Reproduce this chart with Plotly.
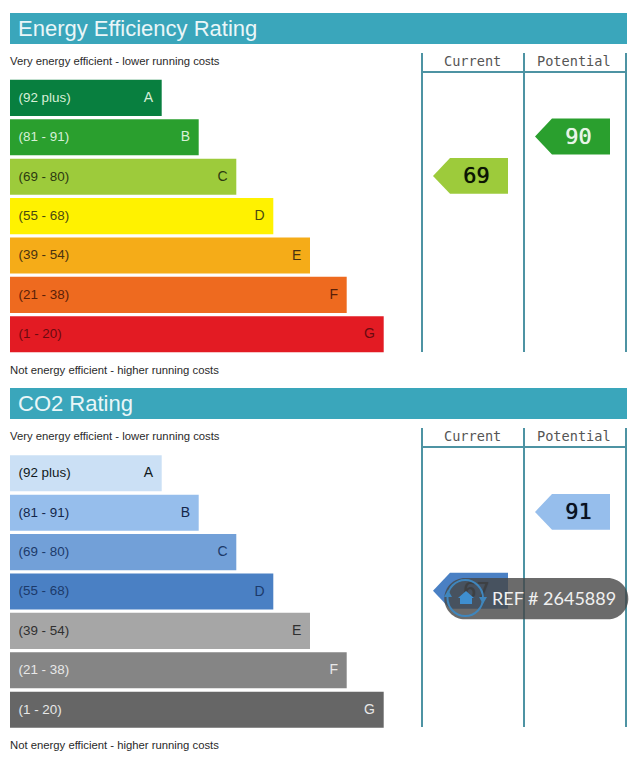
import plotly.graph_objects as go

W, H = 640, 768

bands = ["(92 plus)", "(81 - 91)", "(69 - 80)", "(55 - 68)", "(39 - 54)", "(21 - 38)", "(1 - 20)"]
letters = ["A", "B", "C", "D", "E", "F", "G"]
bar_lengths = [151.7, 188.7, 226.3, 263.3, 300, 336.7, 373.7]

eer_colors = ["#087f3f", "#2a9f2e", "#9dcb3b", "#fff200", "#f5ac18", "#ee6a1f", "#e31b23"]
eer_text = ["#d8efd8", "#d8efd8", "#2c3a10", "#4a4a10", "#4a3210", "#5a2008", "#6a0a10"]
co2_colors = ["#cbe0f5", "#96beec", "#72a0d8", "#4a80c4", "#a6a6a6", "#858585", "#666666"]
co2_text = ["#101820", "#14264a", "#1c3a6a", "#1c3a6a", "#303030", "#e8e8e8", "#e8e8e8"]

eer_current, eer_potential = 69, 90
co2_current, co2_potential = 67, 91
band_floor = [92, 81, 69, 55, 39, 21, 1]

BAR_X0 = 10
TEAL = "#3aa6bb"
LINE = "#4d93a3"
PILL = "rgba(70,70,70,0.8)"


def band_of(value):
    for i, low in enumerate(band_floor):
        if value >= low:
            return i
    return len(band_floor) - 1


def py(p):
    return 1 - p / H


def px(p):
    return p / W


fig = go.Figure()


def add_panel(yaxis, colors, text_colors, number_colors, current, potential):
    idx = list(range(len(bands)))
    text_y = [i + 0.015 for i in idx]
    fig.add_trace(go.Bar(y=idx, x=bar_lengths, base=BAR_X0, orientation="h", width=0.915,
                         marker=dict(color=colors, line_width=0), yaxis=yaxis, hoverinfo="skip"))
    fig.add_trace(go.Scatter(y=text_y, x=[18.5] * 7, text=bands, mode="text", textposition="middle right",
                             textfont=dict(family="Liberation Sans", size=13.4, color=text_colors),
                             yaxis=yaxis, hoverinfo="skip"))
    ends = [BAR_X0 + b - 8.7 for b in bar_lengths]
    fig.add_trace(go.Scatter(y=text_y, x=ends, text=letters, mode="text", textposition="middle left",
                             textfont=dict(family="Liberation Sans", size=14, color=text_colors),
                             yaxis=yaxis, hoverinfo="skip"))
    # pointers sit on the band their value belongs to, a touch above the bar
    for value, left in ((current, 433), (potential, 535)):
        b = band_of(value)
        c = b - 0.02
        fig.add_trace(go.Scatter(
            x=[left, left + 17, left + 75, left + 75, left + 17, left],
            y=[c, c - 0.455, c - 0.455, c + 0.455, c + 0.455, c],
            mode="lines", fill="toself", fillcolor=colors[b], line_width=0,
            yaxis=yaxis, hoverinfo="skip"))
        fig.add_trace(go.Scatter(
            x=[left + 43.5], y=[b + 0.02], text=[str(value)], mode="text", textposition="middle center",
            textfont=dict(family="DejaVu Sans Mono", size=22, color=number_colors[b],
                          shadow="0 0 0.7px " + number_colors[b]),
            yaxis=yaxis, hoverinfo="skip"))


eer_numbers = ["#e8f5e8", "#e8f5e8", "#0c1404", "#0c1404", "#0c1404", "#0c1404", "#0c1404"]
co2_numbers = ["#0a1020", "#0a1020", "#0a1020", "#1c2a3a", "#0a1020", "#0a1020", "#0a1020"]
add_panel("y", eer_colors, eer_text, eer_numbers, eer_current, eer_potential)
add_panel("y2", co2_colors, co2_text, co2_numbers, co2_current, co2_potential)

shapes = []
annotations = []


def rect(x0, y0, x1, y1, color):
    shapes.append(dict(type="rect", xref="paper", yref="paper", x0=px(x0), x1=px(x1), y0=py(y0), y1=py(y1),
                       fillcolor=color, line_width=0, layer="below"))


def label(text, x, y, size, color, family="Liberation Sans", anchor="left"):
    annotations.append(dict(text=text, xref="paper", yref="paper", x=px(x), y=py(y), xanchor=anchor,
                            yanchor="middle", showarrow=False,
                            font=dict(family=family, size=size, color=color)))


def poly(points, color):
    d = "M " + " L ".join(f"{px(x)},{py(y)}" for x, y in points) + " Z"
    shapes.append(dict(type="path", xref="paper", yref="paper", path=d, fillcolor=color,
                       line_width=0, layer="above"))


for top, title in ((13, "Energy Efficiency Rating"), (388, "CO2 Rating")):
    rect(10, top, 627, top + 31, TEAL)
    label(title, 16.2, top + 15, 22, "#eaf6f8")
    label("Very energy efficient - lower running costs", 8, top + 48, 11.3, "#2a2a2a")
    label("Not energy efficient - higher running costs", 8, top + 357, 11.3, "#2a2a2a")
    for x in (422, 524, 626):
        rect(x - 1, top + 40, x + 1, top + 339, LINE)
    rect(422, top + 58, 626, top + 60, LINE)
    label("Current", 472.5, top + 48, 13.6, "#555555", "DejaVu Sans Mono", "center")
    label("Potential", 574, top + 48, 13.6, "#555555", "DejaVu Sans Mono", "center")

# watermark pill, one path so the alpha does not double up
x0, x1, y0, y1 = 444.3, 628.3, 578, 619.3
r = (y1 - y0) / 2
k = r * 0.45
pill = (f"M {px(x0 + r)},{py(y0)} L {px(x1 - r)},{py(y0)} "
        f"C {px(x1 - k)},{py(y0)} {px(x1)},{py(y0 + k)} {px(x1)},{py(y0 + r)} "
        f"C {px(x1)},{py(y1 - k)} {px(x1 - k)},{py(y1)} {px(x1 - r)},{py(y1)} "
        f"L {px(x0 + r)},{py(y1)} "
        f"C {px(x0 + k)},{py(y1)} {px(x0)},{py(y1 - k)} {px(x0)},{py(y0 + r)} "
        f"C {px(x0)},{py(y0 + k)} {px(x0 + k)},{py(y0)} {px(x0 + r)},{py(y0)} Z")
shapes.append(dict(type="path", xref="paper", yref="paper", path=pill, fillcolor=PILL,
                   line_width=0, layer="above"))
shapes.append(dict(type="circle", xref="paper", yref="paper", x0=px(447.5), x1=px(483), y0=py(580), y1=py(616),
                   line=dict(color="#3f86bd", width=2), layer="above"))
# refresh arrow heads and the little house
poly([(444, 597), (452, 597), (448, 590)], "#3f86bd")
poly([(479, 597), (487, 597), (483, 604)], "#3f86bd")
poly([(466, 591), (474, 598), (472, 598), (472, 604), (460, 604), (460, 598), (458, 598)], "#3f8fd0")

label("REF # 2645889", 490, 598, 18, "#f0f0f0", "Lato")

fig.update_layout(
    width=W, height=H, margin=dict(l=0, r=0, t=0, b=0), showlegend=False,
    paper_bgcolor="white", plot_bgcolor="rgba(0,0,0,0)", barmode="overlay",
    xaxis=dict(range=[0, W], domain=[0, 1], visible=False),
    yaxis=dict(range=[6.5, -0.5], domain=[py(354), py(78.2)], visible=False),
    yaxis2=dict(range=[6.5, -0.5], domain=[py(729.4), py(453.6)], visible=False),
    shapes=shapes, annotations=annotations,
)

fig.write_html("out.html", config=dict(displayModeBar=False),
               post_script="document.body.style.margin='0';")
